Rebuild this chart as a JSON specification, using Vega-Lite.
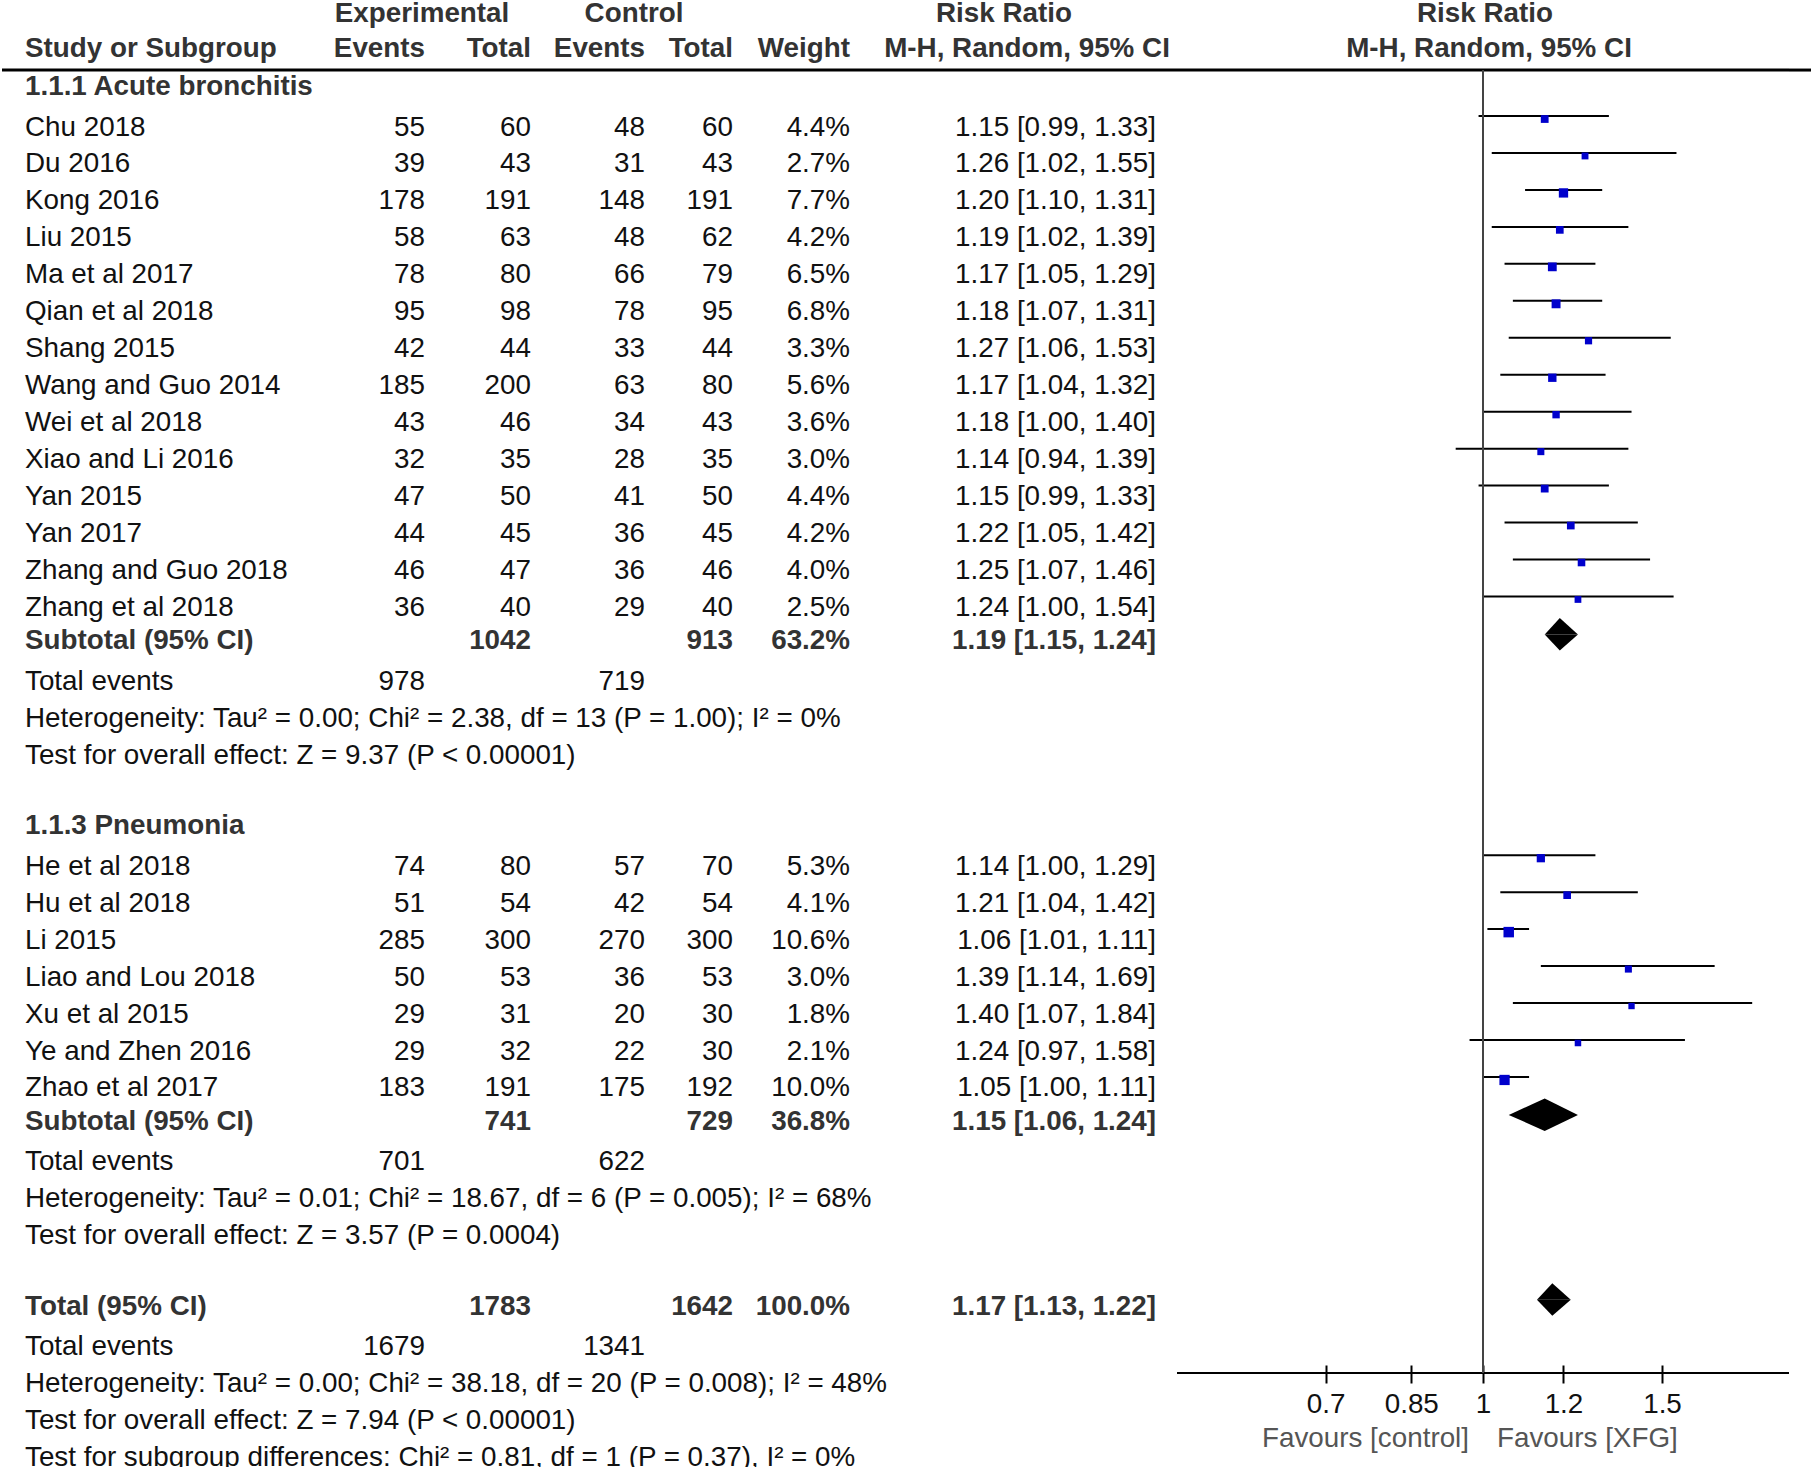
{
  "$schema": "https://vega.github.io/schema/vega-lite/v6.json",
  "autosize": {"type": "pad"},
  "padding": 0,
  "background": "white",
  "spacing": 0,
  "bounds": "flush",
  "config": {"view": {"stroke": null}, "font": "Liberation Sans", "text": {"fontSize": 27.8}},
  "resolve": {"scale": {"x": "independent", "y": "independent"}},
  "datasets": {
    "rows": [
      {"row": -1, "kind": "group", "label": "1.1.1 Acute bronchitis"},
      {"row": 0, "kind": "study", "label": "Chu 2018", "e_ev": 55, "e_tot": 60, "c_ev": 48, "c_tot": 60, "w": 0.044, "ci": "1.15 [0.99, 1.33]", "rr": 1.15, "lo": 0.99, "hi": 1.33},
      {"row": 1, "kind": "study", "label": "Du 2016", "e_ev": 39, "e_tot": 43, "c_ev": 31, "c_tot": 43, "w": 0.027, "ci": "1.26 [1.02, 1.55]", "rr": 1.26, "lo": 1.02, "hi": 1.55},
      {"row": 2, "kind": "study", "label": "Kong 2016", "e_ev": 178, "e_tot": 191, "c_ev": 148, "c_tot": 191, "w": 0.077, "ci": "1.20 [1.10, 1.31]", "rr": 1.20, "lo": 1.10, "hi": 1.31},
      {"row": 3, "kind": "study", "label": "Liu 2015", "e_ev": 58, "e_tot": 63, "c_ev": 48, "c_tot": 62, "w": 0.042, "ci": "1.19 [1.02, 1.39]", "rr": 1.19, "lo": 1.02, "hi": 1.39},
      {"row": 4, "kind": "study", "label": "Ma et al 2017", "e_ev": 78, "e_tot": 80, "c_ev": 66, "c_tot": 79, "w": 0.065, "ci": "1.17 [1.05, 1.29]", "rr": 1.17, "lo": 1.05, "hi": 1.29},
      {"row": 5, "kind": "study", "label": "Qian et al 2018", "e_ev": 95, "e_tot": 98, "c_ev": 78, "c_tot": 95, "w": 0.068, "ci": "1.18 [1.07, 1.31]", "rr": 1.18, "lo": 1.07, "hi": 1.31},
      {"row": 6, "kind": "study", "label": "Shang 2015", "e_ev": 42, "e_tot": 44, "c_ev": 33, "c_tot": 44, "w": 0.033, "ci": "1.27 [1.06, 1.53]", "rr": 1.27, "lo": 1.06, "hi": 1.53},
      {"row": 7, "kind": "study", "label": "Wang and Guo 2014", "e_ev": 185, "e_tot": 200, "c_ev": 63, "c_tot": 80, "w": 0.056, "ci": "1.17 [1.04, 1.32]", "rr": 1.17, "lo": 1.04, "hi": 1.32},
      {"row": 8, "kind": "study", "label": "Wei et al 2018", "e_ev": 43, "e_tot": 46, "c_ev": 34, "c_tot": 43, "w": 0.036, "ci": "1.18 [1.00, 1.40]", "rr": 1.18, "lo": 1.00, "hi": 1.40},
      {"row": 9, "kind": "study", "label": "Xiao and Li 2016", "e_ev": 32, "e_tot": 35, "c_ev": 28, "c_tot": 35, "w": 0.030, "ci": "1.14 [0.94, 1.39]", "rr": 1.14, "lo": 0.94, "hi": 1.39},
      {"row": 10, "kind": "study", "label": "Yan 2015", "e_ev": 47, "e_tot": 50, "c_ev": 41, "c_tot": 50, "w": 0.044, "ci": "1.15 [0.99, 1.33]", "rr": 1.15, "lo": 0.99, "hi": 1.33},
      {"row": 11, "kind": "study", "label": "Yan 2017", "e_ev": 44, "e_tot": 45, "c_ev": 36, "c_tot": 45, "w": 0.042, "ci": "1.22 [1.05, 1.42]", "rr": 1.22, "lo": 1.05, "hi": 1.42},
      {"row": 12, "kind": "study", "label": "Zhang and Guo 2018", "e_ev": 46, "e_tot": 47, "c_ev": 36, "c_tot": 46, "w": 0.040, "ci": "1.25 [1.07, 1.46]", "rr": 1.25, "lo": 1.07, "hi": 1.46},
      {"row": 13, "kind": "study", "label": "Zhang et al 2018", "e_ev": 36, "e_tot": 40, "c_ev": 29, "c_tot": 40, "w": 0.025, "ci": "1.24 [1.00, 1.54]", "rr": 1.24, "lo": 1.00, "hi": 1.54},
      {"row": 14, "kind": "subtotal", "label": "Subtotal (95% CI)", "e_tot": 1042, "c_tot": 913, "w": 0.632, "ci": "1.19 [1.15, 1.24]", "rr": 1.19, "lo": 1.15, "hi": 1.24},
      {"row": 15, "kind": "events", "label": "Total events", "e_ev": 978, "c_ev": 719},
      {"row": 16, "kind": "note", "label": "Heterogeneity: Tau² = 0.00; Chi² = 2.38, df = 13 (P = 1.00); I² = 0%"},
      {"row": 17, "kind": "note", "label": "Test for overall effect: Z = 9.37 (P < 0.00001)"},
      {"row": 19, "kind": "group", "label": "1.1.3 Pneumonia"},
      {"row": 20, "kind": "study", "label": "He et al 2018", "e_ev": 74, "e_tot": 80, "c_ev": 57, "c_tot": 70, "w": 0.053, "ci": "1.14 [1.00, 1.29]", "rr": 1.14, "lo": 1.00, "hi": 1.29},
      {"row": 21, "kind": "study", "label": "Hu et al 2018", "e_ev": 51, "e_tot": 54, "c_ev": 42, "c_tot": 54, "w": 0.041, "ci": "1.21 [1.04, 1.42]", "rr": 1.21, "lo": 1.04, "hi": 1.42},
      {"row": 22, "kind": "study", "label": "Li 2015", "e_ev": 285, "e_tot": 300, "c_ev": 270, "c_tot": 300, "w": 0.106, "ci": "1.06 [1.01, 1.11]", "rr": 1.06, "lo": 1.01, "hi": 1.11},
      {"row": 23, "kind": "study", "label": "Liao and Lou 2018", "e_ev": 50, "e_tot": 53, "c_ev": 36, "c_tot": 53, "w": 0.030, "ci": "1.39 [1.14, 1.69]", "rr": 1.39, "lo": 1.14, "hi": 1.69},
      {"row": 24, "kind": "study", "label": "Xu et al 2015", "e_ev": 29, "e_tot": 31, "c_ev": 20, "c_tot": 30, "w": 0.018, "ci": "1.40 [1.07, 1.84]", "rr": 1.40, "lo": 1.07, "hi": 1.84},
      {"row": 25, "kind": "study", "label": "Ye and Zhen 2016", "e_ev": 29, "e_tot": 32, "c_ev": 22, "c_tot": 30, "w": 0.021, "ci": "1.24 [0.97, 1.58]", "rr": 1.24, "lo": 0.97, "hi": 1.58},
      {"row": 26, "kind": "study", "label": "Zhao et al 2017", "e_ev": 183, "e_tot": 191, "c_ev": 175, "c_tot": 192, "w": 0.100, "ci": "1.05 [1.00, 1.11]", "rr": 1.05, "lo": 1.00, "hi": 1.11},
      {"row": 27, "kind": "subtotal", "label": "Subtotal (95% CI)", "e_tot": 741, "c_tot": 729, "w": 0.368, "ci": "1.15 [1.06, 1.24]", "rr": 1.15, "lo": 1.06, "hi": 1.24},
      {"row": 28, "kind": "events", "label": "Total events", "e_ev": 701, "c_ev": 622},
      {"row": 29, "kind": "note", "label": "Heterogeneity: Tau² = 0.01; Chi² = 18.67, df = 6 (P = 0.005); I² = 68%"},
      {"row": 30, "kind": "note", "label": "Test for overall effect: Z = 3.57 (P = 0.0004)"},
      {"row": 32, "kind": "total", "label": "Total (95% CI)", "e_tot": 1783, "c_tot": 1642, "w": 1.0, "ci": "1.17 [1.13, 1.22]", "rr": 1.17, "lo": 1.13, "hi": 1.22},
      {"row": 33, "kind": "events", "label": "Total events", "e_ev": 1679, "c_ev": 1341},
      {"row": 34, "kind": "note", "label": "Heterogeneity: Tau² = 0.00; Chi² = 38.18, df = 20 (P = 0.008); I² = 48%"},
      {"row": 35, "kind": "note", "label": "Test for overall effect: Z = 7.94 (P < 0.00001)"},
      {"row": 36, "kind": "note", "label": "Test for subgroup differences: Chi² = 0.81, df = 1 (P = 0.37), I² = 0%"}
    ]
  },
  "hconcat": [
    {
      "width": 423, "height": 1467,
      "layer": [
        {"data": {"values": [{}]}, "mark": {"type": "rule", "color": "#000", "strokeWidth": 3, "yOffset": -19},
         "encoding": {"y": {"datum": -1, "type": "ordinal", "scale": {"type": "point", "domain": [-3,-2,-1,0,1,2,3,4,5,6,7,8,9,10,11,12,13,14,15,16,17,18,19,20,21,22,23,24,25,26,27,28,29,30,31,32,33,34,35,36], "padding": 0.3458, "align": 0.5916}, "axis": null}}},
        {"data": {"values": [{}]}, "mark": {"type": "text", "align": "left", "dx": 23, "dy": -3, "fontWeight": "bold", "color": "#333"},
         "encoding": {"x": {"datum": 0, "type": "quantitative", "scale": {"domain": [0, 1], "nice": false, "zero": false}, "axis": null},
           "y": {"datum": -2, "type": "ordinal", "scale": {"type": "point", "domain": [-3,-2,-1,0,1,2,3,4,5,6,7,8,9,10,11,12,13,14,15,16,17,18,19,20,21,22,23,24,25,26,27,28,29,30,31,32,33,34,35,36], "padding": 0.3458, "align": 0.5916}, "axis": null},
           "text": {"value": "Study or Subgroup"}}},
        {"data": {"values": [{}]}, "mark": {"type": "text", "align": "right", "dy": -3, "fontWeight": "bold", "color": "#333"},
         "encoding": {"x": {"datum": 1, "type": "quantitative", "scale": {"domain": [0, 1], "nice": false, "zero": false}, "axis": null},
           "y": {"datum": -2, "type": "ordinal", "scale": {"type": "point", "domain": [-3,-2,-1,0,1,2,3,4,5,6,7,8,9,10,11,12,13,14,15,16,17,18,19,20,21,22,23,24,25,26,27,28,29,30,31,32,33,34,35,36], "padding": 0.3458, "align": 0.5916}, "axis": null},
           "text": {"value": "Events"}}},
        {"data": {"values": [{}]}, "mark": {"type": "text", "align": "center", "dx": -3, "dy": -1, "fontWeight": "bold", "color": "#333"},
         "encoding": {"x": {"datum": 1, "type": "quantitative", "scale": {"domain": [0, 1], "nice": false, "zero": false}, "axis": null},
           "y": {"datum": -3, "type": "ordinal", "scale": {"type": "point", "domain": [-3,-2,-1,0,1,2,3,4,5,6,7,8,9,10,11,12,13,14,15,16,17,18,19,20,21,22,23,24,25,26,27,28,29,30,31,32,33,34,35,36], "padding": 0.3458, "align": 0.5916}, "axis": null},
           "text": {"value": "Experimental"}}},
        {"data": {"name": "rows"}, "transform": [{"filter": "datum.kind === 'study' || datum.kind === 'events' || datum.kind === 'note'"}],
         "mark": {"type": "text", "align": "left", "dx": 23, "dy": 1.5, "color": "#111"},
         "encoding": {"x": {"datum": 0, "type": "quantitative", "scale": {"domain": [0, 1], "nice": false, "zero": false}, "axis": null},
           "y": {"field": "row", "type": "ordinal", "scale": {"type": "point", "domain": [-3,-2,-1,0,1,2,3,4,5,6,7,8,9,10,11,12,13,14,15,16,17,18,19,20,21,22,23,24,25,26,27,28,29,30,31,32,33,34,35,36], "padding": 0.3458, "align": 0.5916}, "axis": null},
           "text": {"field": "label", "type": "nominal"}}},
        {"data": {"name": "rows"}, "transform": [{"filter": "datum.kind === 'group' || datum.kind === 'subtotal' || datum.kind === 'total'"}],
         "mark": {"type": "text", "align": "left", "dx": 23, "dy": -2, "fontWeight": "bold", "color": "#333"},
         "encoding": {"x": {"datum": 0, "type": "quantitative", "scale": {"domain": [0, 1], "nice": false, "zero": false}, "axis": null},
           "y": {"field": "row", "type": "ordinal", "scale": {"type": "point", "domain": [-3,-2,-1,0,1,2,3,4,5,6,7,8,9,10,11,12,13,14,15,16,17,18,19,20,21,22,23,24,25,26,27,28,29,30,31,32,33,34,35,36], "padding": 0.3458, "align": 0.5916}, "axis": null},
           "text": {"field": "label", "type": "nominal"}}},
        {"data": {"name": "rows"}, "transform": [{"filter": "isValid(datum.e_ev)"}],
         "mark": {"type": "text", "align": "right", "dy": 1.5, "color": "#111"},
         "encoding": {"x": {"datum": 1, "type": "quantitative", "scale": {"domain": [0, 1], "nice": false, "zero": false}, "axis": null},
           "y": {"field": "row", "type": "ordinal", "scale": {"type": "point", "domain": [-3,-2,-1,0,1,2,3,4,5,6,7,8,9,10,11,12,13,14,15,16,17,18,19,20,21,22,23,24,25,26,27,28,29,30,31,32,33,34,35,36], "padding": 0.3458, "align": 0.5916}, "axis": null},
           "text": {"field": "e_ev", "type": "nominal"}}}
      ]
    },
    {
      "width": 106, "height": 1467,
      "layer": [
        {"data": {"values": [{}]}, "mark": {"type": "rule", "color": "#000", "strokeWidth": 3, "yOffset": -19},
         "encoding": {"y": {"datum": -1, "type": "ordinal", "scale": {"type": "point", "domain": [-3,-2,-1,0,1,2,3,4,5,6,7,8,9,10,11,12,13,14,15,16,17,18,19,20,21,22,23,24,25,26,27,28,29,30,31,32,33,34,35,36], "padding": 0.3458, "align": 0.5916}, "axis": null}}},
        {"data": {"values": [{}]}, "mark": {"type": "text", "align": "right", "dy": -3, "fontWeight": "bold", "color": "#333"},
         "encoding": {"x": {"datum": 1, "type": "quantitative", "scale": {"domain": [0, 1], "nice": false, "zero": false}, "axis": null},
           "y": {"datum": -2, "type": "ordinal", "scale": {"type": "point", "domain": [-3,-2,-1,0,1,2,3,4,5,6,7,8,9,10,11,12,13,14,15,16,17,18,19,20,21,22,23,24,25,26,27,28,29,30,31,32,33,34,35,36], "padding": 0.3458, "align": 0.5916}, "axis": null},
           "text": {"value": "Total"}}},
        {"data": {"name": "rows"}, "transform": [{"filter": "isValid(datum.e_tot) && datum.kind === 'study'"}],
         "mark": {"type": "text", "align": "right", "dy": 1.5, "color": "#111"},
         "encoding": {"x": {"datum": 1, "type": "quantitative", "scale": {"domain": [0, 1], "nice": false, "zero": false}, "axis": null},
           "y": {"field": "row", "type": "ordinal", "scale": {"type": "point", "domain": [-3,-2,-1,0,1,2,3,4,5,6,7,8,9,10,11,12,13,14,15,16,17,18,19,20,21,22,23,24,25,26,27,28,29,30,31,32,33,34,35,36], "padding": 0.3458, "align": 0.5916}, "axis": null},
           "text": {"field": "e_tot", "type": "nominal"}}},
        {"data": {"name": "rows"}, "transform": [{"filter": "isValid(datum.e_tot) && datum.kind !== 'study'"}],
         "mark": {"type": "text", "align": "right", "dy": -2, "fontWeight": "bold", "color": "#333"},
         "encoding": {"x": {"datum": 1, "type": "quantitative", "scale": {"domain": [0, 1], "nice": false, "zero": false}, "axis": null},
           "y": {"field": "row", "type": "ordinal", "scale": {"type": "point", "domain": [-3,-2,-1,0,1,2,3,4,5,6,7,8,9,10,11,12,13,14,15,16,17,18,19,20,21,22,23,24,25,26,27,28,29,30,31,32,33,34,35,36], "padding": 0.3458, "align": 0.5916}, "axis": null},
           "text": {"field": "e_tot", "type": "nominal"}}}
      ]
    },
    {
      "width": 114, "height": 1467,
      "layer": [
        {"data": {"values": [{}]}, "mark": {"type": "rule", "color": "#000", "strokeWidth": 3, "yOffset": -19},
         "encoding": {"y": {"datum": -1, "type": "ordinal", "scale": {"type": "point", "domain": [-3,-2,-1,0,1,2,3,4,5,6,7,8,9,10,11,12,13,14,15,16,17,18,19,20,21,22,23,24,25,26,27,28,29,30,31,32,33,34,35,36], "padding": 0.3458, "align": 0.5916}, "axis": null}}},
        {"data": {"values": [{}]}, "mark": {"type": "text", "align": "right", "dy": -3, "fontWeight": "bold", "color": "#333"},
         "encoding": {"x": {"datum": 1, "type": "quantitative", "scale": {"domain": [0, 1], "nice": false, "zero": false}, "axis": null},
           "y": {"datum": -2, "type": "ordinal", "scale": {"type": "point", "domain": [-3,-2,-1,0,1,2,3,4,5,6,7,8,9,10,11,12,13,14,15,16,17,18,19,20,21,22,23,24,25,26,27,28,29,30,31,32,33,34,35,36], "padding": 0.3458, "align": 0.5916}, "axis": null},
           "text": {"value": "Events"}}},
        {"data": {"values": [{}]}, "mark": {"type": "text", "align": "center", "dx": -11, "dy": -1, "fontWeight": "bold", "color": "#333"},
         "encoding": {"x": {"datum": 1, "type": "quantitative", "scale": {"domain": [0, 1], "nice": false, "zero": false}, "axis": null},
           "y": {"datum": -3, "type": "ordinal", "scale": {"type": "point", "domain": [-3,-2,-1,0,1,2,3,4,5,6,7,8,9,10,11,12,13,14,15,16,17,18,19,20,21,22,23,24,25,26,27,28,29,30,31,32,33,34,35,36], "padding": 0.3458, "align": 0.5916}, "axis": null},
           "text": {"value": "Control"}}},
        {"data": {"name": "rows"}, "transform": [{"filter": "isValid(datum.c_ev)"}],
         "mark": {"type": "text", "align": "right", "dy": 1.5, "color": "#111"},
         "encoding": {"x": {"datum": 1, "type": "quantitative", "scale": {"domain": [0, 1], "nice": false, "zero": false}, "axis": null},
           "y": {"field": "row", "type": "ordinal", "scale": {"type": "point", "domain": [-3,-2,-1,0,1,2,3,4,5,6,7,8,9,10,11,12,13,14,15,16,17,18,19,20,21,22,23,24,25,26,27,28,29,30,31,32,33,34,35,36], "padding": 0.3458, "align": 0.5916}, "axis": null},
           "text": {"field": "c_ev", "type": "nominal"}}}
      ]
    },
    {
      "width": 88, "height": 1467,
      "layer": [
        {"data": {"values": [{}]}, "mark": {"type": "rule", "color": "#000", "strokeWidth": 3, "yOffset": -19},
         "encoding": {"y": {"datum": -1, "type": "ordinal", "scale": {"type": "point", "domain": [-3,-2,-1,0,1,2,3,4,5,6,7,8,9,10,11,12,13,14,15,16,17,18,19,20,21,22,23,24,25,26,27,28,29,30,31,32,33,34,35,36], "padding": 0.3458, "align": 0.5916}, "axis": null}}},
        {"data": {"values": [{}]}, "mark": {"type": "text", "align": "right", "dy": -3, "fontWeight": "bold", "color": "#333"},
         "encoding": {"x": {"datum": 1, "type": "quantitative", "scale": {"domain": [0, 1], "nice": false, "zero": false}, "axis": null},
           "y": {"datum": -2, "type": "ordinal", "scale": {"type": "point", "domain": [-3,-2,-1,0,1,2,3,4,5,6,7,8,9,10,11,12,13,14,15,16,17,18,19,20,21,22,23,24,25,26,27,28,29,30,31,32,33,34,35,36], "padding": 0.3458, "align": 0.5916}, "axis": null},
           "text": {"value": "Total"}}},
        {"data": {"name": "rows"}, "transform": [{"filter": "isValid(datum.c_tot) && datum.kind === 'study'"}],
         "mark": {"type": "text", "align": "right", "dy": 1.5, "color": "#111"},
         "encoding": {"x": {"datum": 1, "type": "quantitative", "scale": {"domain": [0, 1], "nice": false, "zero": false}, "axis": null},
           "y": {"field": "row", "type": "ordinal", "scale": {"type": "point", "domain": [-3,-2,-1,0,1,2,3,4,5,6,7,8,9,10,11,12,13,14,15,16,17,18,19,20,21,22,23,24,25,26,27,28,29,30,31,32,33,34,35,36], "padding": 0.3458, "align": 0.5916}, "axis": null},
           "text": {"field": "c_tot", "type": "nominal"}}},
        {"data": {"name": "rows"}, "transform": [{"filter": "isValid(datum.c_tot) && datum.kind !== 'study'"}],
         "mark": {"type": "text", "align": "right", "dy": -2, "fontWeight": "bold", "color": "#333"},
         "encoding": {"x": {"datum": 1, "type": "quantitative", "scale": {"domain": [0, 1], "nice": false, "zero": false}, "axis": null},
           "y": {"field": "row", "type": "ordinal", "scale": {"type": "point", "domain": [-3,-2,-1,0,1,2,3,4,5,6,7,8,9,10,11,12,13,14,15,16,17,18,19,20,21,22,23,24,25,26,27,28,29,30,31,32,33,34,35,36], "padding": 0.3458, "align": 0.5916}, "axis": null},
           "text": {"field": "c_tot", "type": "nominal"}}}
      ]
    },
    {
      "width": 117, "height": 1467,
      "layer": [
        {"data": {"values": [{}]}, "mark": {"type": "rule", "color": "#000", "strokeWidth": 3, "yOffset": -19},
         "encoding": {"y": {"datum": -1, "type": "ordinal", "scale": {"type": "point", "domain": [-3,-2,-1,0,1,2,3,4,5,6,7,8,9,10,11,12,13,14,15,16,17,18,19,20,21,22,23,24,25,26,27,28,29,30,31,32,33,34,35,36], "padding": 0.3458, "align": 0.5916}, "axis": null}}},
        {"data": {"values": [{}]}, "mark": {"type": "text", "align": "right", "dy": -3, "fontWeight": "bold", "color": "#333"},
         "encoding": {"x": {"datum": 1, "type": "quantitative", "scale": {"domain": [0, 1], "nice": false, "zero": false}, "axis": null},
           "y": {"datum": -2, "type": "ordinal", "scale": {"type": "point", "domain": [-3,-2,-1,0,1,2,3,4,5,6,7,8,9,10,11,12,13,14,15,16,17,18,19,20,21,22,23,24,25,26,27,28,29,30,31,32,33,34,35,36], "padding": 0.3458, "align": 0.5916}, "axis": null},
           "text": {"value": "Weight"}}},
        {"data": {"name": "rows"}, "transform": [{"filter": "isValid(datum.w) && datum.kind === 'study'"}],
         "mark": {"type": "text", "align": "right", "dy": 1.5, "color": "#111"},
         "encoding": {"x": {"datum": 1, "type": "quantitative", "scale": {"domain": [0, 1], "nice": false, "zero": false}, "axis": null},
           "y": {"field": "row", "type": "ordinal", "scale": {"type": "point", "domain": [-3,-2,-1,0,1,2,3,4,5,6,7,8,9,10,11,12,13,14,15,16,17,18,19,20,21,22,23,24,25,26,27,28,29,30,31,32,33,34,35,36], "padding": 0.3458, "align": 0.5916}, "axis": null},
           "text": {"field": "w", "type": "quantitative", "format": ".1%"}}},
        {"data": {"name": "rows"}, "transform": [{"filter": "isValid(datum.w) && datum.kind !== 'study'"}],
         "mark": {"type": "text", "align": "right", "dy": -2, "fontWeight": "bold", "color": "#333"},
         "encoding": {"x": {"datum": 1, "type": "quantitative", "scale": {"domain": [0, 1], "nice": false, "zero": false}, "axis": null},
           "y": {"field": "row", "type": "ordinal", "scale": {"type": "point", "domain": [-3,-2,-1,0,1,2,3,4,5,6,7,8,9,10,11,12,13,14,15,16,17,18,19,20,21,22,23,24,25,26,27,28,29,30,31,32,33,34,35,36], "padding": 0.3458, "align": 0.5916}, "axis": null},
           "text": {"field": "w", "type": "quantitative", "format": ".1%"}}}
      ]
    },
    {
      "width": 327, "height": 1467,
      "layer": [
        {"data": {"values": [{}]}, "mark": {"type": "rule", "color": "#000", "strokeWidth": 3, "yOffset": -19},
         "encoding": {"y": {"datum": -1, "type": "ordinal", "scale": {"type": "point", "domain": [-3,-2,-1,0,1,2,3,4,5,6,7,8,9,10,11,12,13,14,15,16,17,18,19,20,21,22,23,24,25,26,27,28,29,30,31,32,33,34,35,36], "padding": 0.3458, "align": 0.5916}, "axis": null}}},
        {"data": {"values": [{}]}, "mark": {"type": "text", "align": "center", "dx": -9.5, "dy": -1, "fontWeight": "bold", "color": "#333"},
         "encoding": {"x": {"datum": 0.5, "type": "quantitative", "scale": {"domain": [0, 1], "nice": false, "zero": false}, "axis": null},
           "y": {"datum": -3, "type": "ordinal", "scale": {"type": "point", "domain": [-3,-2,-1,0,1,2,3,4,5,6,7,8,9,10,11,12,13,14,15,16,17,18,19,20,21,22,23,24,25,26,27,28,29,30,31,32,33,34,35,36], "padding": 0.3458, "align": 0.5916}, "axis": null},
           "text": {"value": "Risk Ratio"}}},
        {"data": {"values": [{}]}, "mark": {"type": "text", "align": "center", "dx": 13.5, "dy": -3, "fontWeight": "bold", "color": "#333"},
         "encoding": {"x": {"datum": 0.5, "type": "quantitative", "scale": {"domain": [0, 1], "nice": false, "zero": false}, "axis": null},
           "y": {"datum": -2, "type": "ordinal", "scale": {"type": "point", "domain": [-3,-2,-1,0,1,2,3,4,5,6,7,8,9,10,11,12,13,14,15,16,17,18,19,20,21,22,23,24,25,26,27,28,29,30,31,32,33,34,35,36], "padding": 0.3458, "align": 0.5916}, "axis": null},
           "text": {"value": "M-H, Random, 95% CI"}}},
        {"data": {"name": "rows"}, "transform": [{"filter": "isValid(datum.ci) && datum.kind === 'study'"}],
         "mark": {"type": "text", "align": "right", "dx": -21, "dy": 1.5, "color": "#111"},
         "encoding": {"x": {"datum": 1, "type": "quantitative", "scale": {"domain": [0, 1], "nice": false, "zero": false}, "axis": null},
           "y": {"field": "row", "type": "ordinal", "scale": {"type": "point", "domain": [-3,-2,-1,0,1,2,3,4,5,6,7,8,9,10,11,12,13,14,15,16,17,18,19,20,21,22,23,24,25,26,27,28,29,30,31,32,33,34,35,36], "padding": 0.3458, "align": 0.5916}, "axis": null},
           "text": {"field": "ci", "type": "nominal"}}},
        {"data": {"name": "rows"}, "transform": [{"filter": "isValid(datum.ci) && datum.kind !== 'study'"}],
         "mark": {"type": "text", "align": "right", "dx": -21, "dy": -2, "fontWeight": "bold", "color": "#333"},
         "encoding": {"x": {"datum": 1, "type": "quantitative", "scale": {"domain": [0, 1], "nice": false, "zero": false}, "axis": null},
           "y": {"field": "row", "type": "ordinal", "scale": {"type": "point", "domain": [-3,-2,-1,0,1,2,3,4,5,6,7,8,9,10,11,12,13,14,15,16,17,18,19,20,21,22,23,24,25,26,27,28,29,30,31,32,33,34,35,36], "padding": 0.3458, "align": 0.5916}, "axis": null},
           "text": {"field": "ci", "type": "nominal"}}}
      ]
    },
    {
      "width": 612, "height": 1467,
      "resolve": {"scale": {"yOffset": "independent"}},
      "layer": [
        {"data": {"values": [{}]}, "mark": {"type": "rule", "color": "#000", "strokeWidth": 3, "yOffset": -19},
         "encoding": {"y": {"datum": -1, "type": "ordinal", "scale": {"type": "point", "domain": [-3,-2,-1,0,1,2,3,4,5,6,7,8,9,10,11,12,13,14,15,16,17,18,19,20,21,22,23,24,25,26,27,28,29,30,31,32,33,34,35,36], "padding": 0.3458, "align": 0.5916}, "axis": null}}},
        {"data": {"values": [{}]}, "mark": {"type": "rule", "color": "#000", "strokeWidth": 2, "yOffset": 27.3},
         "encoding": {"y": {"datum": 33, "type": "ordinal", "scale": {"type": "point", "domain": [-3,-2,-1,0,1,2,3,4,5,6,7,8,9,10,11,12,13,14,15,16,17,18,19,20,21,22,23,24,25,26,27,28,29,30,31,32,33,34,35,36], "padding": 0.3458, "align": 0.5916}, "axis": null}}},
        {"data": {"name": "rows"}, "transform": [{"filter": "datum.kind === 'study'"}],
         "mark": {"type": "rule", "color": "#000", "strokeWidth": 2, "yOffset": -10},
         "encoding": {
           "x": {"field": "lo", "type": "quantitative", "title": null, "scale": {"type": "log", "domain": [0.5, 2], "nice": false},
             "axis": {"orient": "bottom", "values": [0.7, 0.85, 1, 1.2, 1.5], "format": "~g", "offset": -102, "domain": false, "grid": false, "ticks": true, "tickSize": 18, "tickWidth": 2, "tickColor": "#000", "labelFontSize": 27.8, "labelFont": "Liberation Sans", "labelColor": "#111", "labelPadding": 7, "labelFlush": false, "labelOverlap": false, "title": null}},
           "x2": {"field": "hi"},
           "y": {"field": "row", "type": "ordinal", "scale": {"type": "point", "domain": [-3,-2,-1,0,1,2,3,4,5,6,7,8,9,10,11,12,13,14,15,16,17,18,19,20,21,22,23,24,25,26,27,28,29,30,31,32,33,34,35,36], "padding": 0.3458, "align": 0.5916}, "axis": null}}},
        {"data": {"values": [{}]}, "mark": {"type": "rule", "color": "#444", "strokeWidth": 2, "yOffset": -19, "y2Offset": 27.3},
         "encoding": {
           "x": {"datum": 1, "type": "quantitative", "title": null, "scale": {"type": "log", "domain": [0.5, 2], "nice": false}},
           "y": {"datum": -1, "type": "ordinal", "scale": {"type": "point", "domain": [-3,-2,-1,0,1,2,3,4,5,6,7,8,9,10,11,12,13,14,15,16,17,18,19,20,21,22,23,24,25,26,27,28,29,30,31,32,33,34,35,36], "padding": 0.3458, "align": 0.5916}, "axis": null},
           "y2": {"datum": 33}}},
        {"data": {"name": "rows"}, "transform": [{"filter": "datum.kind === 'study'"}],
         "mark": {"type": "square", "filled": true, "opacity": 1, "color": "#0000cc", "yOffset": -7},
         "encoding": {
           "x": {"field": "rr", "type": "quantitative", "title": null, "scale": {"type": "log", "domain": [0.5, 2], "nice": false}},
           "y": {"field": "row", "type": "ordinal", "scale": {"type": "point", "domain": [-3,-2,-1,0,1,2,3,4,5,6,7,8,9,10,11,12,13,14,15,16,17,18,19,20,21,22,23,24,25,26,27,28,29,30,31,32,33,34,35,36], "padding": 0.3458, "align": 0.5916}, "axis": null},
           "size": {"field": "w", "type": "quantitative", "scale": {"domain": [0.018, 0.106], "range": [40, 110], "zero": false}, "legend": null}}},
        {"data": {"name": "rows"},
         "transform": [{"filter": "datum.kind === 'subtotal' || datum.kind === 'total'"}, {"fold": ["lo", "rr", "hi"], "as": ["pt", "val"]}, {"window": [{"op": "row_number", "as": "vi"}], "groupby": ["row"], "sort": [{"field": "val", "order": "ascending"}]}],
         "mark": {"type": "area", "orient": "vertical", "color": "#000", "opacity": 1, "interpolate": "linear", "y2Offset": -9},
         "encoding": {
           "x": {"field": "val", "type": "quantitative", "title": null, "scale": {"type": "log", "domain": [0.5, 2], "nice": false}},
           "y": {"field": "row", "type": "ordinal", "scale": {"type": "point", "domain": [-3,-2,-1,0,1,2,3,4,5,6,7,8,9,10,11,12,13,14,15,16,17,18,19,20,21,22,23,24,25,26,27,28,29,30,31,32,33,34,35,36], "padding": 0.3458, "align": 0.5916}, "axis": null},
           "y2": {"field": "row"},
           "yOffset": {"field": "vi", "type": "quantitative", "scale": {"domain": [1, 2, 3], "range": [-9, -25.5, -9]}},
           "detail": {"field": "row", "type": "nominal"}}},
        {"data": {"name": "rows"},
         "transform": [{"filter": "datum.kind === 'subtotal' || datum.kind === 'total'"}, {"fold": ["lo", "rr", "hi"], "as": ["pt", "val"]}, {"window": [{"op": "row_number", "as": "vi"}], "groupby": ["row"], "sort": [{"field": "val", "order": "ascending"}]}],
         "mark": {"type": "area", "orient": "vertical", "color": "#000", "opacity": 1, "interpolate": "linear", "y2Offset": -9},
         "encoding": {
           "x": {"field": "val", "type": "quantitative", "title": null, "scale": {"type": "log", "domain": [0.5, 2], "nice": false}},
           "y": {"field": "row", "type": "ordinal", "scale": {"type": "point", "domain": [-3,-2,-1,0,1,2,3,4,5,6,7,8,9,10,11,12,13,14,15,16,17,18,19,20,21,22,23,24,25,26,27,28,29,30,31,32,33,34,35,36], "padding": 0.3458, "align": 0.5916}, "axis": null},
           "y2": {"field": "row"},
           "yOffset": {"field": "vi", "type": "quantitative", "scale": {"domain": [1, 2, 3], "range": [-9, 7, -9]}},
           "detail": {"field": "row", "type": "nominal"}}},
        {"data": {"values": [{}]}, "mark": {"type": "text", "align": "center", "dx": 2, "dy": -1, "fontWeight": "bold", "color": "#333"},
         "encoding": {
           "x": {"datum": 1, "type": "quantitative", "title": null, "scale": {"type": "log", "domain": [0.5, 2], "nice": false}},
           "y": {"datum": -3, "type": "ordinal", "scale": {"type": "point", "domain": [-3,-2,-1,0,1,2,3,4,5,6,7,8,9,10,11,12,13,14,15,16,17,18,19,20,21,22,23,24,25,26,27,28,29,30,31,32,33,34,35,36], "padding": 0.3458, "align": 0.5916}, "axis": null},
           "text": {"value": "Risk Ratio"}}},
        {"data": {"values": [{}]}, "mark": {"type": "text", "align": "center", "dx": 6, "dy": -3, "fontWeight": "bold", "color": "#333"},
         "encoding": {
           "x": {"datum": 1, "type": "quantitative", "title": null, "scale": {"type": "log", "domain": [0.5, 2], "nice": false}},
           "y": {"datum": -2, "type": "ordinal", "scale": {"type": "point", "domain": [-3,-2,-1,0,1,2,3,4,5,6,7,8,9,10,11,12,13,14,15,16,17,18,19,20,21,22,23,24,25,26,27,28,29,30,31,32,33,34,35,36], "padding": 0.3458, "align": 0.5916}, "axis": null},
           "text": {"value": "M-H, Random, 95% CI"}}},
        {"data": {"values": [{}]}, "mark": {"type": "text", "align": "right", "dx": -14, "dy": 19, "color": "#555"},
         "encoding": {
           "x": {"datum": 1, "type": "quantitative", "title": null, "scale": {"type": "log", "domain": [0.5, 2], "nice": false}},
           "y": {"datum": 35, "type": "ordinal", "scale": {"type": "point", "domain": [-3,-2,-1,0,1,2,3,4,5,6,7,8,9,10,11,12,13,14,15,16,17,18,19,20,21,22,23,24,25,26,27,28,29,30,31,32,33,34,35,36], "padding": 0.3458, "align": 0.5916}, "axis": null},
           "text": {"value": "Favours [control]"}}},
        {"data": {"values": [{}]}, "mark": {"type": "text", "align": "left", "dx": 14, "dy": 19, "color": "#555"},
         "encoding": {
           "x": {"datum": 1, "type": "quantitative", "title": null, "scale": {"type": "log", "domain": [0.5, 2], "nice": false}},
           "y": {"datum": 35, "type": "ordinal", "scale": {"type": "point", "domain": [-3,-2,-1,0,1,2,3,4,5,6,7,8,9,10,11,12,13,14,15,16,17,18,19,20,21,22,23,24,25,26,27,28,29,30,31,32,33,34,35,36], "padding": 0.3458, "align": 0.5916}, "axis": null},
           "text": {"value": "Favours [XFG]"}}}
      ]
    },
    {
      "width": 24, "height": 1467,
      "layer": [
        {"data": {"values": [{}]}, "mark": {"type": "rule", "color": "#000", "strokeWidth": 3, "yOffset": -19},
         "encoding": {"y": {"datum": -1, "type": "ordinal", "scale": {"type": "point", "domain": [-3,-2,-1,0,1,2,3,4,5,6,7,8,9,10,11,12,13,14,15,16,17,18,19,20,21,22,23,24,25,26,27,28,29,30,31,32,33,34,35,36], "padding": 0.3458, "align": 0.5916}, "axis": null}}}
      ]
    }
  ]
}
